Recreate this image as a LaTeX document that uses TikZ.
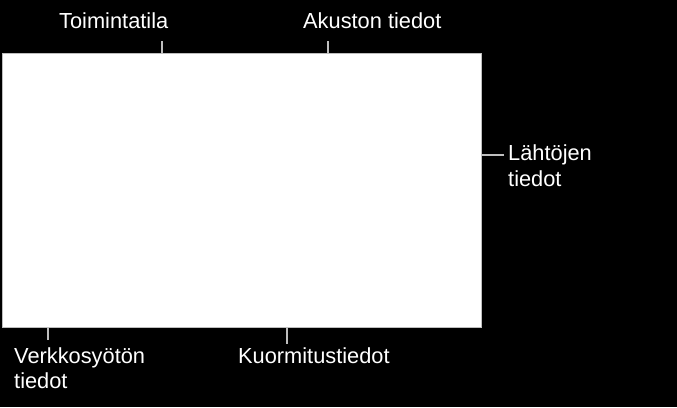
\documentclass[tikz,border=0pt]{standalone}
\usepackage{fontspec}
\setmainfont{Liberation Sans}
\usepackage{tikz}
\usetikzlibrary{positioning, calc}

\definecolor{leadergray}{RGB}{190,190,190}
\newcommand{\labelfont}{\fontsize{21.8}{25}\selectfont}

\begin{document}
\begin{tikzpicture}[
  x=1pt, y=-1pt,
  panel/.style = {draw=leadergray, fill=white, line width=1pt, inner sep=0pt, anchor=north west, minimum width=479pt, minimum height=274pt},
  label/.style = {text=white, font=\labelfont, inner sep=0pt, align=left},
  leader/.style = {draw=leadergray, line width=1.2pt}
]

% Background
\fill[black] (0,0) rectangle (677,407);
\useasboundingbox (0,0) rectangle (677,407);

% Panel
\node[panel] (panel) at (2,53) {};

% Labels
\node[label, anchor=base west] (toimintatila) at (59,28) {Toimintatila};
\node[label, anchor=base west] (akusto) at (303,28) {Akuston tiedot};
\node[label, anchor=north west] (lahdot) at (508,145) {Lähtöjen\\tiedot};
\node[label, anchor=north west] (verkko) at (14,347) {Verkkosyötön\\tiedot};
\node[label, anchor=base west] (kuormitus) at (238,363) {Kuormitustiedot};

% Leader lines
\coordinate (toimintatila leader) at (162,41);
\coordinate (akusto leader) at (328,41);
\coordinate (lahdot leader) at (504,155);
\coordinate (verkko leader) at (48,340);
\coordinate (kuormitus leader) at (287,344);

\draw[leader] (toimintatila leader) -- (toimintatila leader |- panel.north);
\draw[leader] (akusto leader) -- (akusto leader |- panel.north);
\draw[leader] (lahdot leader) -- (lahdot leader -| panel.east);
\draw[leader] (verkko leader) -- (verkko leader |- panel.south);
\draw[leader] (kuormitus leader) -- (kuormitus leader |- panel.south);

\end{tikzpicture}
\end{document}
